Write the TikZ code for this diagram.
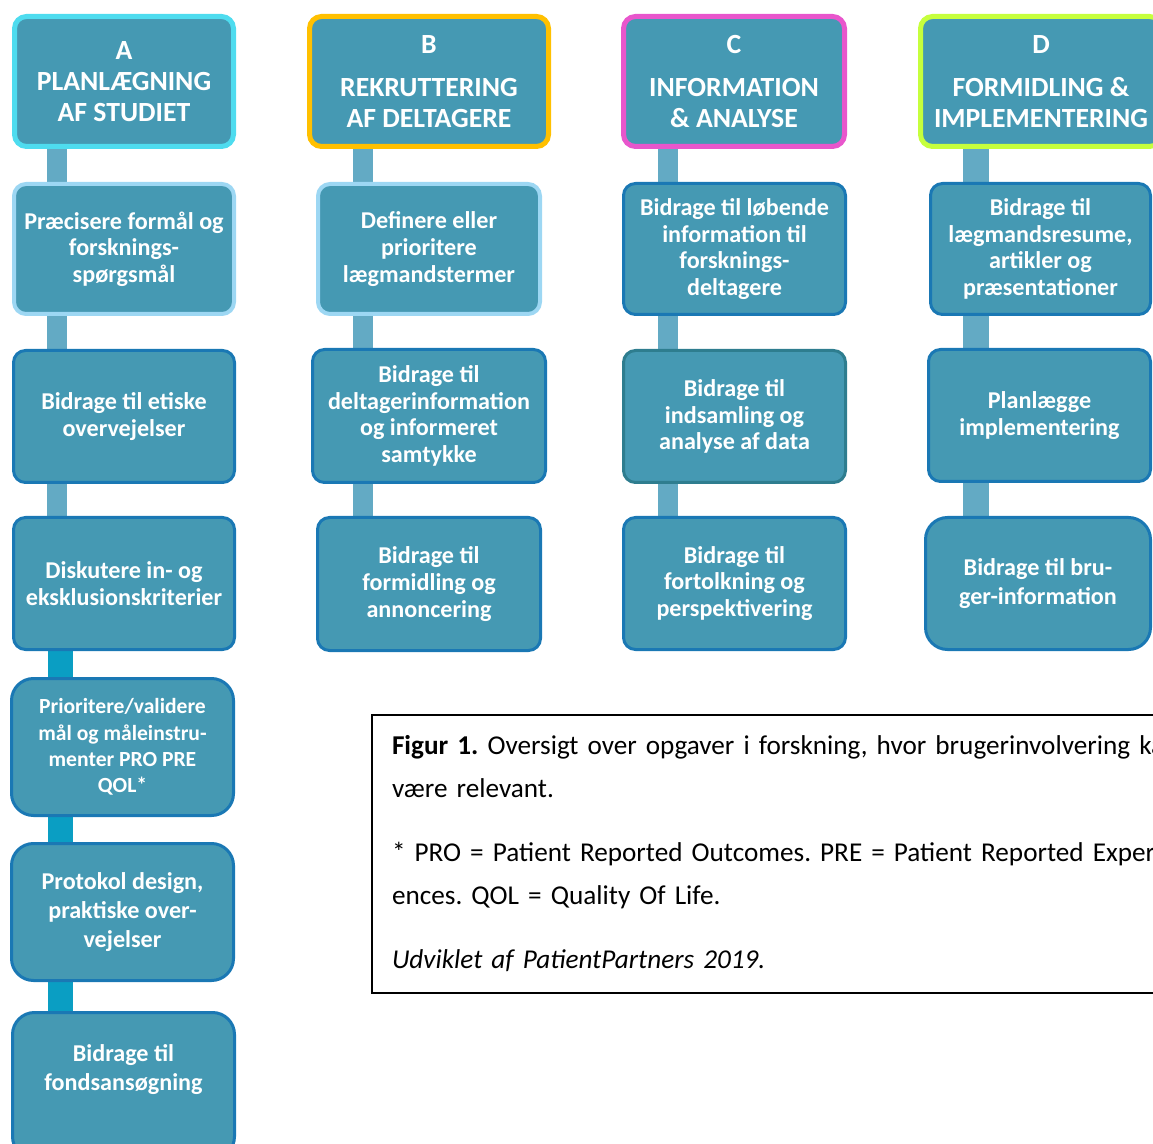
\documentclass[tikz,border=0pt]{standalone}
\usepackage{fontspec}
\setmainfont{Carlito}
\usetikzlibrary{backgrounds,calc}
\frenchspacing
\definecolor{boxfill}{HTML}{4599B3}
\definecolor{darkedge}{HTML}{1A78B4}
\definecolor{lightedge}{HTML}{9DD7F3}
\definecolor{tealedge}{HTML}{2E7D8F}
\definecolor{edgeA}{HTML}{4EDCEF}
\definecolor{edgeB}{HTML}{FFC000}
\definecolor{edgeC}{HTML}{E856CC}
\definecolor{edgeD}{HTML}{C6FF3D}
\definecolor{barlight}{HTML}{63AAC4}
\definecolor{barstrong}{HTML}{0A9EC3}
\newcommand{\px}{0.75pt}
\newcommand{\barthin}{20*\px}
\newcommand{\barthick}{25*\px}
\tikzset{
  task/.style={rectangle, rounded corners=12*\px, fill=boxfill, draw=darkedge,
    line width=3*\px, text=white, align=center, inner sep=0pt,
    font=\bfseries\fontsize{18.1}{20}\selectfont,
    minimum width=221*\px, minimum height=132*\px},
  roundtask/.style={task, rounded corners=22*\px},
  loose/.style={font=\bfseries\fontsize{18.1}{21.75}\selectfont},
  hint/.style={task, draw=lightedge, line width=4*\px,
    minimum width=220*\px, minimum height=130*\px},
  headbox/.style={task, line width=5*\px, minimum height=130*\px,
    font=\bfseries\fontsize{20.8}{23.25}\selectfont},
  bar/.style={barlight, line width=\barthin},
  caption/.style={draw=black, line width=2*\px, align=left, inner xsep=20*\px,
    text width=900*\px, minimum height=278*\px, font=\fontsize{20.4}{32.25}\selectfont}
}

\begin{document}
\begin{tikzpicture}[x=0.75pt,y=-0.75pt]
\useasboundingbox (0,0) rectangle (1153,1144);
\clip (0,0) rectangle (1153,1144);
%headers
\node[headbox, draw=edgeA, minimum width=219*\px] (hA) at (124,81.5) {A\\PLANLÆGNING\\AF STUDIET};
\node[headbox, draw=edgeB, minimum width=239*\px] (hB) at (429,81.5) {B\\[9pt]REKRUTTERING\\AF DELTAGERE};
\node[headbox, draw=edgeC, minimum width=221*\px] (hC) at (734,81.5) {C\\[9pt]INFORMATION\\\& ANALYSE};
\node[headbox, draw=edgeD, minimum width=241*\px] (hD) at (1041,81.5) {D\\[9pt]FORMIDLING \&\\IMPLEMENTERING};
%A
\node[hint] (a1) at (124,249) {Præcisere formål og\\forsknings-\\spørgsmål};
\node[task] (a2) at (124,416.5) {Bidrage til etiske\\overvejelser};
\node[task] (a3) at (124,583.5) {Diskutere in- og\\eksklusionskriterier};
\node[roundtask, minimum width=222*\px, minimum height=137*\px, font=\bfseries\fontsize{16.2}{19.7}\selectfont] (a4) at (122.5,747) {Prioritere/validere\\mål og måleinstru-\\menter PRO PRE\\QOL*};
\node[roundtask, loose, minimum width=222*\px, minimum height=137*\px] (a5) at (122.5,912) {Protokol design,\\praktiske over-\\vejelser};
\node[roundtask, loose, minimum width=222*\px, minimum height=146*\px, text depth=36*\px] (a6) at (123.5,1085.5) {Bidrage til\\fondsansøgning};
%B
\node[hint, minimum width=222*\px] (b1) at (429,249) {Definere eller\\prioritere\\lægmandstermer};
\node[task, minimum width=233*\px, minimum height=133*\px] (b2) at (429,416) {Bidrage til\\deltagerinformation\\og informeret\\samtykke};
\node[task, minimum width=223*\px, minimum height=133*\px] (b3) at (429,584) {Bidrage til\\formidling og\\annoncering};
%C
\node[task, minimum width=222*\px, minimum height=131*\px] (c1) at (734.5,249) {Bidrage til løbende\\information til\\forsknings-\\deltagere};
\node[task, draw=tealedge, minimum width=222*\px] (c2) at (734.5,416.5) {Bidrage til\\indsamling og\\analyse af data};
\node[task, minimum width=222*\px] (c3) at (734.5,583.5) {Bidrage til\\fortolkning og\\perspektivering};
%D
\node[task, minimum width=220*\px, minimum height=131*\px] (d1) at (1040.5,249) {Bidrage til\\lægmandsresume,\\artikler og\\præsentationer};
\node[task, minimum width=222*\px] (d2) at (1039.5,415.5) {Planlægge\\implementering};
\node[roundtask, loose, minimum width=225*\px] (d3) at (1038,583.5) {Bidrage til bru-\\ger-information};
%caption
\node[caption, anchor=north west] (cap) at (371,714) {\textbf{Figur 1.} Oversigt over opgaver i forskning, hvor brugerinvolvering kan\\
være relevant.\\[15.75pt]
* PRO = Patient Reported Outcomes. PRE = Patient Reported Experi-\\
ences. QOL = Quality Of Life.\\[15.75pt]
\textit{Udviklet af PatientPartners 2019.}};
%bars
\coordinate (xA) at (57,0);
\coordinate (xAA) at (60.5,0);
\coordinate (xB) at (363,0);
\coordinate (xC) at (668,0);
\coordinate (xD) at (976,0);
\begin{scope}[on background layer]
\draw[bar] (xA |- hA.south) -- (xA |- a1.north);
\draw[bar] (xA |- a1.south) -- (xA |- a2.north);
\draw[bar] (xA |- a2.south) -- (xA |- a3.north);
\draw[bar, barstrong, line width=\barthick] (xAA |- a3.south) -- (xAA |- a4.north);
\draw[bar, barstrong, line width=\barthick] (xAA |- a4.south) -- (xAA |- a5.north);
\draw[bar, barstrong, line width=\barthick] (xAA |- a5.south) -- (xAA |- a6.north);
\draw[bar] (xB |- hB.south) -- (xB |- b1.north);
\draw[bar] (xB |- b1.south) -- (xB |- b2.north);
\draw[bar] (xB |- b2.south) -- (xB |- b3.north);
\draw[bar] (xC |- hC.south) -- (xC |- c1.north);
\draw[bar] (xC |- c1.south) -- (xC |- c2.north);
\draw[bar] (xC |- c2.south) -- (xC |- c3.north);
\draw[bar, line width=26*\px] (xD |- hD.south) -- (xD |- d1.north);
\draw[bar, line width=26*\px] (xD |- d1.south) -- (xD |- d2.north);
\draw[bar, line width=26*\px] (xD |- d2.south) -- (xD |- d3.north);
\end{scope}
\end{tikzpicture}
\end{document}
